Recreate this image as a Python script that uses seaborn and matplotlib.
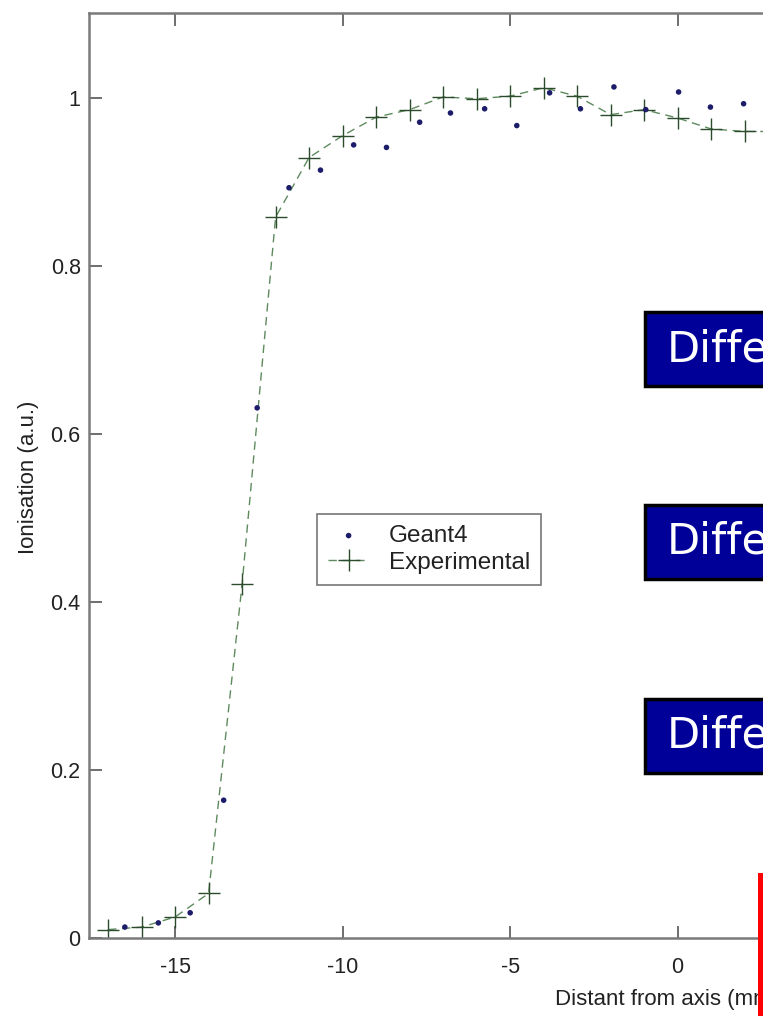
import numpy as np
import pandas as pd
import matplotlib
matplotlib.use("Agg")
import matplotlib.pyplot as plt
from matplotlib.patches import Rectangle
import seaborn as sns

# ---- data ----
geant4_x = [-16.5, -15.5, -14.55, -13.55, -12.55, -11.6, -10.66, -9.67, -8.69, -7.7,
            -6.78, -5.76, -4.8, -3.82, -2.9, -1.9, -0.95, 0.03, 0.98, 1.97]
geant4_y = [0.013, 0.018, 0.030, 0.164, 0.631, 0.893, 0.914, 0.944, 0.941, 0.971,
            0.982, 0.987, 0.967, 1.006, 0.987, 1.013, 0.986, 1.007, 0.989, 0.993]

exp_x = [-17, -16, -15, -14, -13, -12, -11, -10, -9, -8, -7, -6, -5, -4, -3, -2, -1, 0, 1, 2, 3]
exp_y = [0.010, 0.013, 0.025, 0.053, 0.421, 0.858, 0.929, 0.955, 0.977, 0.986, 1.001,
         0.999, 1.002, 1.012, 1.002, 0.980, 0.986, 0.976, 0.963, 0.960, 0.960]

x_ticks = [-15, -10, -5, 0, 5, 10, 15]
y_ticks = [0, 0.2, 0.4, 0.6, 0.8, 1.0]
y_tick_labels = ["0", "0.2", "0.4", "0.6", "0.8", "1"]
box_labels = ["Difference", "Difference", "Difference"]

sns.set_theme(style="white")
plt.rcParams['font.family'] = ['Liberation Sans', 'DejaVu Sans']

W, H = 763, 1016
fig = plt.figure(figsize=(W / 100, H / 100), dpi=100)

ax_left, ax_right_px = 89, 1260
ax_top, ax_bot = 13, 938
ax = fig.add_axes([ax_left / W, (H - ax_bot) / H, (ax_right_px - ax_left) / W, (ax_bot - ax_top) / H])

df_exp = pd.DataFrame({"x": exp_x, "y": exp_y})
df_g4 = pd.DataFrame({"x": geant4_x, "y": geant4_y})

sns.lineplot(data=df_exp, x="x", y="y", ax=ax, color="#5e8a5e", linewidth=1.0,
             sort=False, label="Experimental", zorder=2)
line = ax.lines[-1]
line.set_dashes([6, 4])
line.set_marker("+")
line.set_markersize(16)
line.set_markeredgewidth(1.0)
line.set_markeredgecolor("#2c4a2c")

sns.scatterplot(data=df_g4, x="x", y="y", ax=ax, color="#1c1c6a", s=16,
                edgecolor="none", label="Geant4", zorder=3)

x_min = -17.57
x_max = x_min + (ax_right_px - ax_left) / 33.5
ax.set_xlim(x_min, x_max)
ax.set_ylim(0, 1.101)
ax.set_xticks(x_ticks)
ax.set_xticklabels([str(t) for t in x_ticks])
ax.set_yticks(y_ticks)
ax.set_yticklabels(y_tick_labels)
ax.tick_params(direction="in", length=9, width=1.2, color="#555555",
               top=True, right=True, bottom=True, left=True,
               labelsize=15.5, labelcolor="#222222")
ax.tick_params(axis="x", pad=14)
ax.tick_params(axis="y", pad=6)
for s in ax.spines.values():
    s.set_color("#7a7a7a")
    s.set_linewidth(1.8)

ax.set_xlabel("Distant from axis (mm)", fontsize=16, color="#222222")
ax.xaxis.label.set_ha("left")
ax.xaxis.label.set_va("center")
ax.xaxis.set_label_coords(555 / W, (H - 999) / H, transform=fig.transFigure)

ax.set_ylabel("Ionisation (a.u.)", fontsize=16, color="#222222")
ax.yaxis.label.set_va("center")
ax.yaxis.set_label_coords(29 / W, (H - 477) / H, transform=fig.transFigure)

handles, labels = ax.get_legend_handles_labels()
order = [labels.index("Geant4"), labels.index("Experimental")]
leg = ax.legend([handles[i] for i in order], [labels[i] for i in order],
                loc="upper left",
                bbox_to_anchor=(317 / W, (H - 514) / H), bbox_transform=fig.transFigure,
                borderaxespad=0, frameon=True, fancybox=False, fontsize=17.5,
                handlelength=1.7, borderpad=0.45, labelspacing=0.2, handletextpad=0.8)
leg.get_frame().set_edgecolor("#555555")
leg.get_frame().set_linewidth(1.2)
leg.get_frame().set_facecolor("white")
for t in leg.get_texts():
    t.set_color("#222222")

# overlay boxes (pixel coordinates)
box_tops = [312, 505, 699]
box_h = 74
for top, lab in zip(box_tops, box_labels):
    fig.add_artist(Rectangle((645 / W, (H - top - box_h) / H), 400 / W, box_h / H,
                             transform=fig.transFigure, facecolor="#000099",
                             edgecolor="black", linewidth=2.5, zorder=10))
    fig.text(667 / W, (H - top - box_h / 2) / H, lab, color="white", fontsize=31,
             family="DejaVu Sans", va="center", ha="left", zorder=11)

fig.add_artist(Rectangle((758 / W, 0), 20 / W, (H - 873) / H, transform=fig.transFigure,
                         facecolor="#ff0000", edgecolor="none", zorder=12))

fig.savefig("out.png", dpi=100)
